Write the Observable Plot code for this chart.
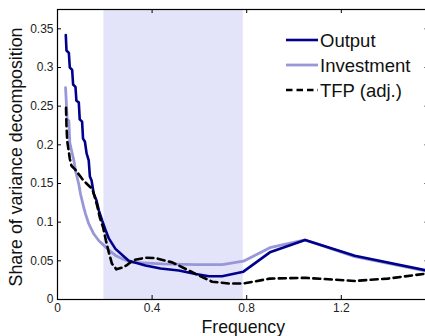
<!DOCTYPE html>
<html><head><meta charset="utf-8">
<script src="https://cdn.jsdelivr.net/npm/d3@7"></script>
<script src="https://cdn.jsdelivr.net/npm/@observablehq/plot@0.6"></script>
<style>
html,body{margin:0;padding:0;background:#fff;overflow:hidden;}
</style></head><body><div id="chart"></div>
<script>
// Series names
const seriesNames = ["Output", "Investment", "TFP (adj.)"];

// Output
const outputFreq = [0.035,0.038,0.048,0.052,0.062,0.066,0.076,0.080,0.090,0.094,0.104,0.108,0.116,0.123,0.132,0.137,0.144,0.153,0.165,0.175,0.189,0.203,0.217,0.245,0.301,0.372,0.436,0.513,0.584,0.640,0.696,0.786,0.898,1.047,1.257,1.571];
const outputShare = [0.342,0.322,0.319,0.300,0.297,0.278,0.275,0.257,0.255,0.233,0.230,0.208,0.204,0.189,0.180,0.159,0.154,0.137,0.128,0.115,0.102,0.090,0.079,0.0655,0.050,0.044,0.040,0.0375,0.033,0.030,0.030,0.036,0.061,0.077,0.0565,0.037];

// Investment
const invFreq = [0.034,0.041,0.048,0.052,0.059,0.069,0.076,0.090,0.097,0.111,0.118,0.132,0.153,0.175,0.196,0.217,0.245,0.274,0.316,0.443,0.584,0.696,0.786,0.898,1.047,1.257,1.571];
const invShare = [0.274,0.233,0.231,0.203,0.193,0.180,0.167,0.149,0.137,0.119,0.111,0.098,0.085,0.076,0.070,0.064,0.057,0.0526,0.048,0.046,0.045,0.045,0.0495,0.067,0.077,0.0555,0.036];

// TFP (adj.)
const tfpFreq = [0.036,0.038,0.041,0.047,0.052,0.059,0.072,0.085,0.104,0.126,0.147,0.156,0.168,0.179,0.193,0.205,0.217,0.230,0.249,0.271,0.294,0.321,0.372,0.414,0.485,0.555,0.612,0.654,0.724,0.786,0.898,1.047,1.257,1.396,1.571];
const tfpShare = [0.248,0.225,0.205,0.193,0.182,0.173,0.169,0.164,0.156,0.149,0.143,0.134,0.121,0.106,0.093,0.076,0.061,0.0465,0.039,0.041,0.0445,0.051,0.054,0.0536,0.048,0.0375,0.029,0.023,0.0207,0.0207,0.027,0.028,0.024,0.027,0.034];

// Business-cycle band (8 to 32 quarters)
const bandLo = 2 * Math.PI / 32;
const bandHi = 2 * Math.PI / 8;

// Ticks
const xTicks = [0, 0.4, 0.8, 1.2];
const yTicks = [0, 0.05, 0.1, 0.15, 0.2, 0.25, 0.3, 0.35];
const xLabel = "Frequency";
const yLabel = "Share of variance decomposition";

const colors = ["#00008c", "#9898d8", "#000000"];

const toRows = (f, v) => f.map((d, i) => ({f: d, v: v[i]}));
const outRows = toRows(outputFreq, outputShare);
const invRows = toRows(invFreq, invShare);
const tfpRows = toRows(tfpFreq, tfpShare);

const fmt = d => String(+d.toFixed(2));
const labelFont = "Liberation Sans, Arial, sans-serif";

const W = 425, H = 336, mL = 57, mR = -3.5, mT = 9, mB = 37;
const frameW = W - mR - mL, frameH = H - mT - mB;

const plot = Plot.plot({
  width: W, height: H,
  marginLeft: mL, marginRight: mR, marginTop: mT, marginBottom: mB,
  x: {domain: [0, Math.PI / 2]},
  y: {domain: [0, 0.375]},
  style: {background: "white", fontFamily: "Liberation Sans, Arial, sans-serif", fontSize: "12px", color: "#222", overflow: "hidden"},
  marks: [
    Plot.rect([{lo: bandLo, hi: bandHi}], {x1: "lo", x2: "hi", fill: "#e3e3fa"}),
    Plot.line(invRows, {x: "f", y: "v", stroke: colors[1], strokeWidth: 2.8, clip: true}),
    Plot.line(outRows, {x: "f", y: "v", stroke: colors[0], strokeWidth: 2.6, clip: true}),
    Plot.line(tfpRows, {x: "f", y: "v", stroke: colors[2], strokeWidth: 2.6, strokeDasharray: "7,4.5", clip: true}),
    Plot.frame({stroke: "black", strokeWidth: 1.2}),
    Plot.tickX(xTicks, {x: d => d, insetTop: frameH - 4, stroke: "black"}),
    Plot.tickX(xTicks, {x: d => d, insetBottom: frameH - 4, stroke: "black"}),
    Plot.tickY(yTicks, {y: d => d, insetRight: frameW - 4, stroke: "black"}),
    Plot.tickY(yTicks, {y: d => d, insetLeft: frameW - 4, stroke: "black"}),
    Plot.axisX(xTicks, {tickSize: 0, tickPadding: 4, tickFormat: fmt, label: null}),
    Plot.axisY(yTicks, {tickSize: 0, tickPadding: 4, tickFormat: fmt, label: null}),
    Plot.text([xLabel], {frameAnchor: "bottom", dy: 33, lineAnchor: "bottom", textAnchor: "middle", fontFamily: labelFont, fontSize: 17.7, fill: "#111"}),
    Plot.text([yLabel], {frameAnchor: "left", dx: -35.3, dy: 2.5, rotate: -90, lineAnchor: "bottom", textAnchor: "middle", fontFamily: labelFont, fontSize: 17.8, fill: "#111"})
  ]
});

// Legend
const svg = d3.select(plot);
const lg = svg.append("g").attr("text-anchor", "start");
const dashes = [null, null, "6.5,4"];
const widths = [2.6, 2.8, 2.6];
seriesNames.forEach((name, i) => {
  const yLine = 40 + i * 25;
  lg.append("line").attr("x1", 286).attr("x2", 318).attr("y1", yLine).attr("y2", yLine)
    .attr("stroke", colors[i]).attr("stroke-width", widths[i]).attr("stroke-dasharray", dashes[i]);
  lg.append("text").attr("x", 320).attr("y", yLine + 6.7).text(name)
    .attr("text-anchor", "start")
    .attr("font-family", labelFont).attr("font-size", 18.5).attr("fill", "#111");
});

document.getElementById("chart").appendChild(plot);
</script>
</body></html>
